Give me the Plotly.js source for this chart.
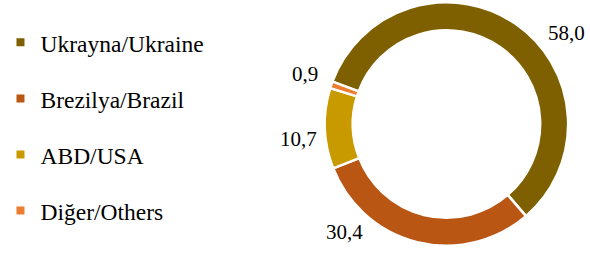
<!DOCTYPE html>
<html>
<head>
<meta charset="utf-8">
<script src="https://cdn.plot.ly/plotly-3.0.1.min.js"></script>
<style>html,body{margin:0;padding:0;background:#fff;}#chart{width:590px;height:257px;}</style>
</head>
<body>
<div id="chart"></div>
<script>
// ---- data ----
const categories = ['Ukrayna/Ukraine', 'Brezilya/Brazil', 'ABD/USA', 'Diğer/Others'];
const shares = [58.0, 30.4, 10.7, 0.9];

// ---- styles ----
const colors = ['#7F6000', '#BA5614', '#C99A00', '#ED7D31'];
const FONT = 'Liberation Serif';
const W = 590, H = 257;
const cx = 445.5, cy = 124, R = 122.5;
const rotation = -69.6;
const labelRadius = 150;
const labelAngleNudge = [18.8, 29.1, -4.3, 0];

const dom = {
  x: [(cx - R) / W, (cx + R) / W],
  y: [1 - (cy + R) / H, 1 - (cy - R) / H]
};

const fmt = v => v.toFixed(1).replace('.', ',');

const pie = {
  type: 'pie',
  values: shares,
  labels: categories,
  sort: false,
  direction: 'clockwise',
  rotation: rotation,
  hole: 0.77,
  domain: dom,
  marker: { colors: colors, line: { color: '#FFFFFF', width: 2.5 } },
  textinfo: 'none',
  showlegend: false,
  hoverinfo: 'label+value'
};

// legend entries (small square swatches)
const legendTraces = categories.map((c, i) => ({
  type: 'scatter',
  mode: 'markers',
  x: [null], y: [null],
  name: c,
  legendgroup: 'g' + i,
  marker: { symbol: 'square', size: 8, color: colors[i] },
  showlegend: true,
  hoverinfo: 'skip'
}));

// value labels around the ring, positioned from the slice angles
const total = shares.reduce((a, b) => a + b, 0);
let acc = 0;
const annotations = shares.map((v, i) => {
  const mid = rotation + (acc + v / 2) / total * 360 + labelAngleNudge[i];
  acc += v;
  const a = mid * Math.PI / 180;
  const px = cx + labelRadius * Math.sin(a);
  const py = cy - labelRadius * Math.cos(a);
  return {
    xref: 'paper', yref: 'paper',
    x: px / W, y: 1 - py / H,
    xanchor: 'center', yanchor: 'middle',
    yshift: 2,
    text: fmt(v),
    showarrow: false,
    font: { family: FONT, size: 21, color: '#000' }
  };
});

const layout = {
  width: W, height: H,
  margin: { l: 0, r: 0, t: 0, b: 0 },
  paper_bgcolor: '#fff',
  plot_bgcolor: '#fff',
  font: { family: FONT, color: '#000' },
  showlegend: true,
  xaxis: { visible: false },
  yaxis: { visible: false },
  legend: {
    x: -0.006, y: 0.92, xanchor: 'left', yanchor: 'top',
    traceorder: 'grouped',
    tracegroupgap: 22.5,
    font: { family: FONT, size: 23.5, color: '#000' },
    bgcolor: 'rgba(0,0,0,0)'
  },
  annotations: annotations
};

Plotly.newPlot('chart', legendTraces.concat([pie]), layout, { displayModeBar: false, staticPlot: true });
</script>
</body>
</html>
